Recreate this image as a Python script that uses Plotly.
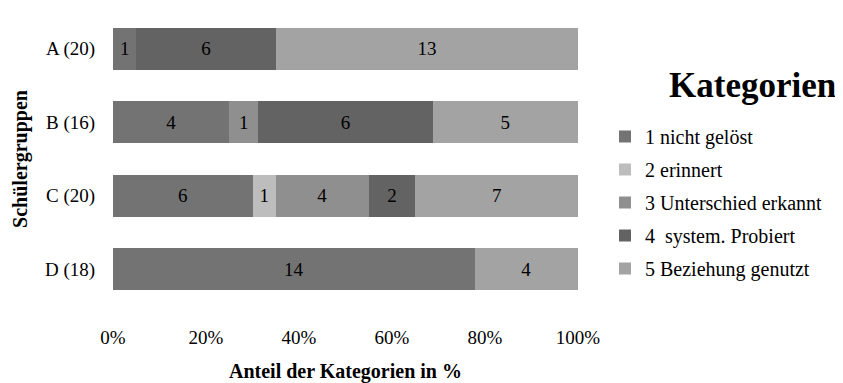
import plotly.graph_objects as go

groups = ["A (20)", "B (16)", "C (20)", "D (18)"]
categories = ["1 nicht gelöst", "2 erinnert", "3 Unterschied erkannt", "4  system. Probiert", "5 Beziehung genutzt"]
cat1 = [1, 4, 6, 14]
cat2 = [0, 0, 1, 0]
cat3 = [0, 1, 4, 0]
cat4 = [6, 6, 2, 0]
cat5 = [13, 5, 7, 4]
series = [cat1, cat2, cat3, cat4, cat5]
colors = ["#737373", "#bdbdbd", "#8f8f8f", "#636363", "#a3a3a3"]
xticks = [0, 20, 40, 60, 80, 100]

totals = [sum(s[i] for s in series) for i in range(len(groups))]
FONT = "Liberation Serif"

# the page body has an 8px default margin; size the figure to fit the window
W, H = 835, 375

fig = go.Figure()
for k, (name, vals, col) in enumerate(zip(categories, series, colors)):
    xs = [v / t * 100 if v else None for v, t in zip(vals, totals)]
    txt = [str(v) if v else "" for v in vals]
    fig.add_trace(go.Bar(
        y=groups, x=xs, name=name, orientation="h",
        marker=dict(color=col, line=dict(width=0)),
        text=txt, textposition="inside", insidetextanchor="middle",
        textfont=dict(color="#000000", size=19, family=FONT),
        legendgroup=str(k),
    ))

fig.update_layout(
    width=W, height=H,
    margin=dict(l=105, r=265, t=4, b=77, autoexpand=False),
    barmode="stack", bargap=0.43,
    plot_bgcolor="white", paper_bgcolor="white",
    font=dict(family=FONT, size=19, color="#000000"),
    showlegend=True,
    legend=dict(
        xref="container", yref="container",
        x=597 / W, xanchor="left", y=1 - 109 / H, yanchor="top",
        traceorder="grouped", tracegroupgap=4,
        font=dict(size=20, family=FONT),
        itemclick=False,
    ),
    uniformtext=dict(mode="show", minsize=10),
    annotations=[dict(
        text="<b>Kategorien</b>", xref="paper", yref="paper",
        x=(752 - 113) / 465, y=(306 - 85) / 294, xanchor="center", yanchor="middle",
        showarrow=False, font=dict(size=35, family=FONT, color="#000000"),
    )],
)
fig.update_xaxes(
    range=[0, 100], tickvals=xticks, ticktext=[f"{v}%" for v in xticks],
    showgrid=False, zeroline=False, showline=False, automargin=False,
    ticks="outside", ticklen=14, tickcolor="rgba(0,0,0,0)",
    tickfont=dict(size=19),
    title=dict(text="<b>Anteil der Kategorien in %</b>", font=dict(size=20, family=FONT), standoff=24),
)
fig.update_yaxes(
    autorange="reversed", showgrid=False, zeroline=False, showline=False, automargin=False,
    ticks="outside", ticklen=13, tickcolor="rgba(0,0,0,0)",
    tickfont=dict(size=19),
    title=dict(text="<b>Schülergruppen</b>", font=dict(size=20, family=FONT), standoff=12),
)

fig.write_html("out.html")
